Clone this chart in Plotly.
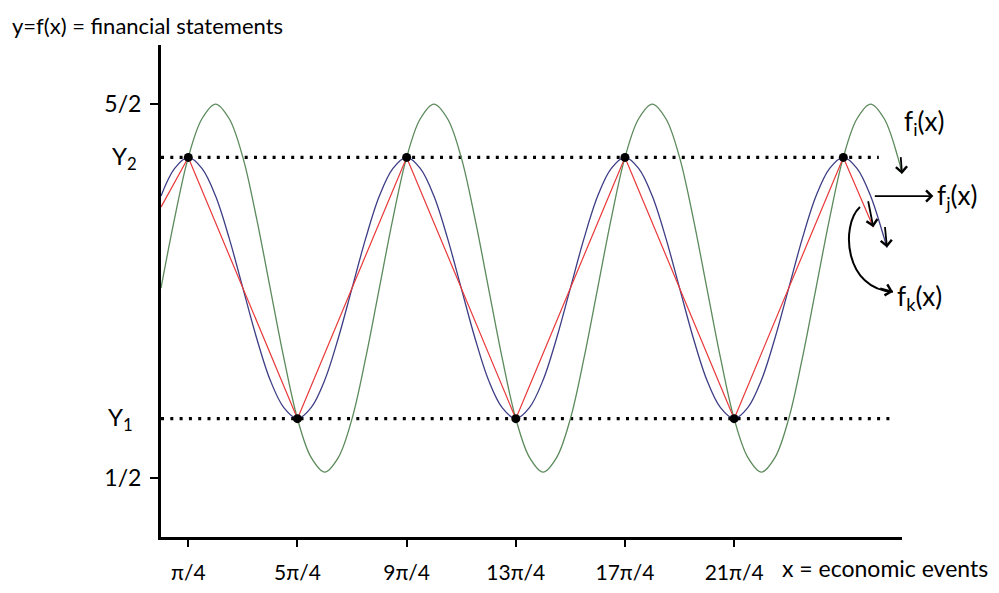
import plotly.graph_objects as go

# x positions in units of pi/4 (sampled every pi/8)
x_green = [i / 2 for i in range(0, 55)] + [27.15]
y_green = [1.50, 1.88, 2.21, 2.42, 2.50, 2.42, 2.21, 1.88,
           1.50, 1.12, 0.79, 0.58, 0.50, 0.58, 0.79, 1.12,
           1.50, 1.88, 2.21, 2.42, 2.50, 2.42, 2.21, 1.88,
           1.50, 1.12, 0.79, 0.58, 0.50, 0.58, 0.79, 1.12,
           1.50, 1.88, 2.21, 2.42, 2.50, 2.42, 2.21, 1.88,
           1.50, 1.12, 0.79, 0.58, 0.50, 0.58, 0.79, 1.12,
           1.50, 1.88, 2.21, 2.42, 2.50, 2.42, 2.21, 2.12]

x_blue = [i / 2 for i in range(0, 54)] + [26.6]
y_blue = [2.00, 2.15, 2.21, 2.15, 2.00, 1.77, 1.50, 1.23,
          1.00, 0.85, 0.79, 0.85, 1.00, 1.23, 1.50, 1.77,
          2.00, 2.15, 2.21, 2.15, 2.00, 1.77, 1.50, 1.23,
          1.00, 0.85, 0.79, 0.85, 1.00, 1.23, 1.50, 1.77,
          2.00, 2.15, 2.21, 2.15, 2.00, 1.77, 1.50, 1.23,
          1.00, 0.85, 0.79, 0.85, 1.00, 1.23, 1.50, 1.77,
          2.00, 2.15, 2.21, 2.15, 2.00, 1.77, 1.72]

x_red = [0, 1, 5, 9, 13, 17, 21, 25, 26.1]
y_red = [1.94, 2.21, 0.79, 2.21, 0.79, 2.21, 0.79, 2.21, 1.83]

Y2 = 2.21
Y1 = 0.79
x_dots = [1, 5, 9, 13, 17, 21, 25]
y_dots = [Y2, Y1, Y2, Y1, Y2, Y1, Y2]

x_ticks = [1, 5, 9, 13, 17, 21]
x_ticktext = ["π/4", "5π/4", "9π/4", "13π/4", "17π/4", "21π/4"]
y_ticks = [0.47, 2.5]
y_ticktext = ["1/2", "5/2"]

Y2_line_end = 26.3
Y1_line_end = 26.8

FONT = "Lato"
GREEN = "#5b8a5b"
BLUE = "#3d3d85"
RED = "#e8393a"

fig = go.Figure()
fig.add_trace(go.Scatter(x=[0, Y2_line_end], y=[Y2, Y2], mode="lines",
                         line=dict(color="black", width=3.2, dash="3px,6.3px"),
                         cliponaxis=False, hoverinfo="skip"))
fig.add_trace(go.Scatter(x=[0, Y1_line_end], y=[Y1, Y1], mode="lines",
                         line=dict(color="black", width=3.2, dash="3px,6.3px"),
                         cliponaxis=False, hoverinfo="skip"))
fig.add_trace(go.Scatter(x=x_green, y=y_green, mode="lines",
                         line=dict(color=GREEN, width=1.3, shape="spline", smoothing=1.0),
                         cliponaxis=False))
fig.add_trace(go.Scatter(x=x_blue, y=y_blue, mode="lines",
                         line=dict(color=BLUE, width=1.3, shape="spline", smoothing=1.0),
                         cliponaxis=False))
fig.add_trace(go.Scatter(x=x_red, y=y_red, mode="lines",
                         line=dict(color=RED, width=1.2),
                         cliponaxis=False))
fig.add_trace(go.Scatter(x=x_dots, y=y_dots, mode="markers",
                         marker=dict(color="black", size=9), cliponaxis=False))

# curved arrow towards f_k label
fig.add_shape(type="path", xref="x", yref="y",
              path="M 25.61,1.94 C 24.88,1.84 25.06,1.49 26.82,1.48",
              line=dict(color="black", width=2))

arrow = dict(axref="x", ayref="y", xref="x", yref="y", text="", showarrow=True,
             arrowhead=4, arrowsize=1.2, arrowwidth=1.8, arrowcolor="black")
anns = []
anns.append(dict(arrow, x=x_green[-1], y=y_green[-1], ax=x_green[-1] - 0.05, ay=y_green[-1] + 0.1))
anns.append(dict(arrow, x=x_blue[-1], y=y_blue[-1], ax=x_blue[-1] - 0.08, ay=y_blue[-1] + 0.12))
anns.append(dict(arrow, x=x_red[-1], y=y_red[-1], ax=x_red[-1] - 0.2, ay=y_red[-1] + 0.15))
anns.append(dict(arrow, x=28.3, y=2.0, ax=26.1, ay=2.0))
anns.append(dict(arrow, x=26.82, y=1.48, ax=26.3, ay=1.5))

lab_font = dict(family=FONT, size=26, color="black")
anns.append(dict(x=1.0, y=2.4, xref="paper", yref="y", text="f<sub>i</sub>(x)", showarrow=False,
                 xanchor="left", yanchor="middle", font=lab_font))
anns.append(dict(x=1.045, y=2.0, xref="paper", yref="y", text="f<sub>j</sub>(x)", showarrow=False,
                 xanchor="left", yanchor="middle", font=lab_font))
anns.append(dict(x=0.99, y=1.45, xref="paper", yref="y", text="f<sub>k</sub>(x)", showarrow=False,
                 xanchor="left", yanchor="middle", font=lab_font))
anns.append(dict(x=-0.03, y=Y2, xref="paper", yref="y", text="Y<sub>2</sub>", showarrow=False,
                 xanchor="right", yanchor="middle", font=dict(family=FONT, size=24, color="black")))
anns.append(dict(x=-0.035, y=Y1, xref="paper", yref="y", text="Y<sub>1</sub>", showarrow=False,
                 xanchor="right", yanchor="middle", font=dict(family=FONT, size=24, color="black")))
anns.append(dict(x=0.835, y=-0.062, xref="paper", yref="paper", text="x = economic events",
                 showarrow=False, xanchor="left", yanchor="middle",
                 font=dict(family=FONT, size=23, color="black")))

fig.update_layout(
    width=999, height=593,
    margin=dict(l=161, r=97, t=45, b=56),
    paper_bgcolor="white", plot_bgcolor="white",
    showlegend=False,
    title=dict(text="y=f(x) = financial statements", x=0.012, xanchor="left",
               y=1 - 26 / 593, yanchor="middle",
               font=dict(family=FONT, size=22, color="black")),
    annotations=anns,
    xaxis=dict(range=[0, 27.15], showgrid=False, zeroline=False, automargin=False,
               showline=True, linecolor="black", linewidth=3,
               tickmode="array", tickvals=x_ticks, ticktext=x_ticktext,
               ticks="outside", ticklen=7, tickwidth=1.5, tickcolor="black",
               ticklabelstandoff=8,
               tickfont=dict(family=FONT, size=21, color="black")),
    yaxis=dict(range=[0.147, 2.821], showgrid=False, zeroline=False, automargin=False,
               showline=True, linecolor="black", linewidth=3,
               tickmode="array", tickvals=y_ticks, ticktext=y_ticktext,
               ticks="outside", ticklen=8, tickwidth=1.5, tickcolor="black",
               ticklabelstandoff=4,
               tickfont=dict(family=FONT, size=23, color="black")),
)

fig.write_html("out.html", config={"displayModeBar": False},
               post_script="document.body.style.margin='0';")
